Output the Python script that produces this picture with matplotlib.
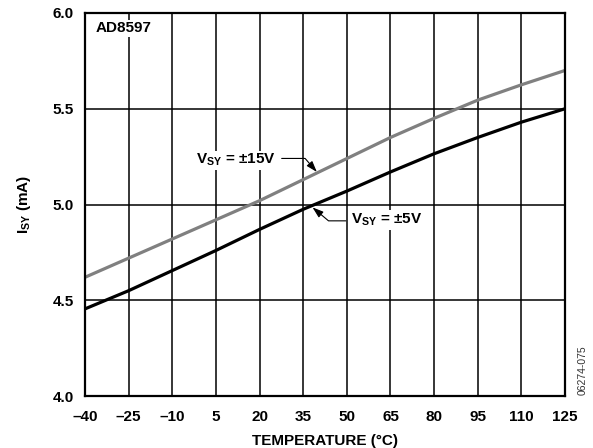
import matplotlib
matplotlib.use("Agg")
import matplotlib.pyplot as plt

plt.rcParams['font.family'] = ['Liberation Sans', 'DejaVu Sans']
plt.rcParams['font.weight'] = 'bold'
plt.rcParams['mathtext.fontset'] = 'custom'
plt.rcParams['mathtext.rm'] = 'Liberation Sans:bold'
plt.rcParams['mathtext.it'] = 'Liberation Sans:bold'
plt.rcParams['mathtext.bf'] = 'Liberation Sans:bold'

temps = [-40, -25, -10, 5, 20, 35, 50, 65, 80, 95, 110, 125]
isy_15v = [4.62, 4.72, 4.82, 4.92, 5.02, 5.13, 5.24, 5.35, 5.45, 5.545, 5.625, 5.70]
isy_5v = [4.455, 4.55, 4.655, 4.76, 4.87, 4.975, 5.07, 5.17, 5.265, 5.35, 5.43, 5.50]
xticks = [-40, -25, -10, 5, 20, 35, 50, 65, 80, 95, 110, 125]
xticklabels = ['\u201340', '\u201325', '\u201310', '5', '20', '35', '50', '65', '80', '95', '110', '125']
yticks = [4.0, 4.5, 5.0, 5.5, 6.0]
yticklabels = ['4.0', '4.5', '5.0', '5.5', '6.0']

FS = 11

fig = plt.figure(figsize=(5.93, 4.48), dpi=100)
ax = fig.add_axes([0.1433, 0.116, 0.8095, 0.855])

ax.plot(temps, isy_15v, color='#808080', lw=2.3, solid_capstyle='butt', zorder=3)
ax.plot(temps, isy_5v, color='black', lw=2.3, solid_capstyle='butt', zorder=3)

ax.set_xlim(-40, 125)
ax.set_ylim(4.0, 6.0)
ax.set_xticks(xticks)
ax.set_xticklabels(xticklabels)
ax.set_yticks(yticks)
ax.set_yticklabels(yticklabels)
ax.tick_params(axis='y', length=0, labelsize=FS, pad=8)
ax.tick_params(axis='x', length=0, labelsize=FS, pad=10)
for lab in ax.get_xticklabels() + ax.get_yticklabels():
    lab.set_fontweight('bold')
ax.grid(True, color='black', lw=1.1, zorder=1)
for s in ax.spines.values():
    s.set_linewidth(1.6)
    s.set_zorder(4)

ax.set_xlabel('TEMPERATURE (\u00b0C)', fontsize=FS, fontweight='bold', labelpad=7)
ax.set_ylabel(r'$\mathregular{I_{SY}}$ (mA)', fontsize=FS, fontweight='bold', labelpad=14)

ax.text(-36.5, 5.92, 'AD8597', fontsize=FS, fontweight='bold', ha='left', va='center',
        bbox=dict(fc='white', ec='none', pad=1), zorder=5)

lbl15 = r'$\mathregular{V_{SY}}$ = ' + '\u00b115V'
lbl5 = r'$\mathregular{V_{SY}}$ = ' + '\u00b15V'

ax.annotate(lbl15, xy=(39.7, 5.17), xytext=(12.0, 5.232),
            fontsize=FS, fontweight='bold', ha='center', va='center',
            bbox=dict(fc='white', ec='none', pad=1), zorder=5,
            arrowprops=dict(arrowstyle='-|>,head_length=0.6,head_width=0.2', color='black', lw=0.8,
                            relpos=(1, 0.6), shrinkA=3, shrinkB=0,
                            connectionstyle='angle,angleA=0,angleB=131,rad=0'))

ax.annotate(lbl5, xy=(38.2, 4.985), xytext=(63.8, 4.919),
            fontsize=FS, fontweight='bold', ha='center', va='center',
            bbox=dict(fc='white', ec='none', pad=1), zorder=5,
            arrowprops=dict(arrowstyle='-|>,head_length=0.6,head_width=0.2', color='black', lw=0.8,
                            relpos=(0, 0.45), shrinkA=3, shrinkB=0,
                            connectionstyle='angle,angleA=180,angleB=-40,rad=0'))

fig.text(0.983, 0.174, '06274-075', rotation=90, fontsize=7.5, fontweight='normal',
         color='#333333', ha='center', va='center')

fig.savefig('out.png', dpi=100)
